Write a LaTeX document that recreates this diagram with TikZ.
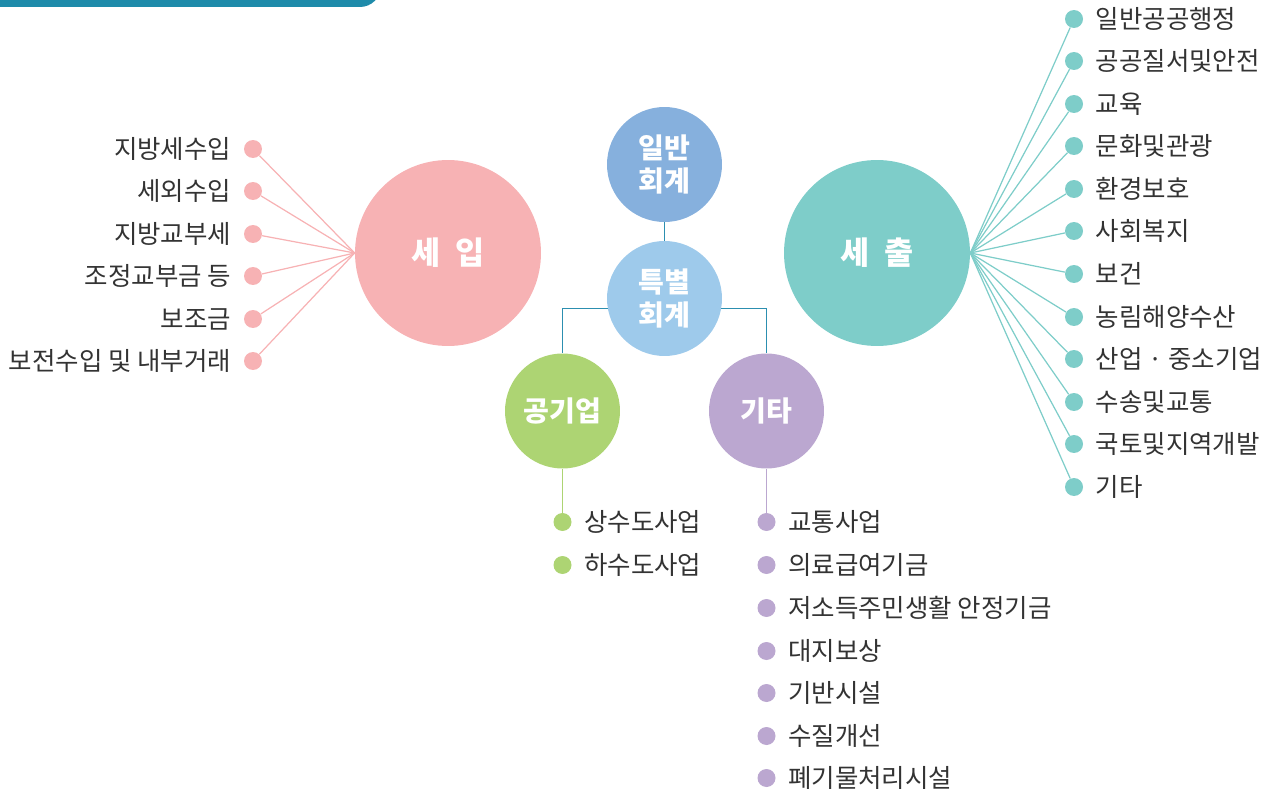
\documentclass[tikz,border=0pt]{standalone}
\usepackage{fontspec}
\setmainfont{Noto Sans CJK KR}
\usepackage{tikz}
\usetikzlibrary{positioning}
\definecolor{barblue}{HTML}{1E8BAA}
\definecolor{linkblue}{HTML}{2C8FB0}
\definecolor{inpink}{HTML}{F7B2B4}
\definecolor{outteal}{HTML}{7ECDC9}
\definecolor{genblue}{HTML}{86B0DD}
\definecolor{spcblue}{HTML}{9ECAEB}
\definecolor{pubgreen}{HTML}{ADD473}
\definecolor{etcpurple}{HTML}{BBA7D0}
\definecolor{textgray}{HTML}{333333}

\begin{document}
\begin{tikzpicture}[
    x=0.02cm, y=-0.02cm,
    big circle/.style={circle, minimum size=3.72cm, inner sep=0pt, text=white,
        font=\fontsize{18}{21}\selectfont\bfseries},
    small circle/.style={circle, minimum size=2.3cm, inner sep=0pt, align=center,
        text=white, font=\fontsize{16}{19}\selectfont\bfseries},
    bullet/.style={circle, minimum size=0.36cm, inner sep=0pt},
    itemtext/.style={text=textgray, font=\fontsize{14.5}{16}\selectfont, inner sep=0pt},
    thin link/.style={line width=0.7pt},
    main link/.style={line width=0.9pt, linkblue}
    ]

    \useasboundingbox (0,0) rectangle (1269,794);
    % top bar
    \fill[barblue, rounded corners=12] (-20,-30) rectangle (381,7);

    % main circles
    \node[big circle, fill=inpink] (income) at (448,253) {세\,\,\,입};
    \node[big circle, fill=outteal] (outlay) at (877,253) {세\,\,\,출};
    \node[small circle, fill=genblue] (general) at (664.5,164.5) {일반\\회계};
    \node[small circle, fill=spcblue] (special) at (664.5,298.5) {특별\\회계};
    \node[small circle, fill=pubgreen] (public) at (562.5,411) {공기업};
    \node[small circle, fill=etcpurple] (other) at (766.5,411) {기타};

    % center links
    \draw[main link] (general) -- (special);
    \draw[main link] (special.190) -| (public.north);
    \draw[main link] (special.350) -| (other.north);

    % income items
    \node[bullet, fill=inpink] (in1) at (253,149) {};
    \node[bullet, fill=inpink] (in2) at (253,191) {};
    \node[bullet, fill=inpink] (in3) at (253,234) {};
    \node[bullet, fill=inpink] (in4) at (253,276) {};
    \node[bullet, fill=inpink] (in5) at (253,319) {};
    \node[bullet, fill=inpink] (in6) at (253,361) {};
    \node[itemtext, left=0.24cm of in1] (in1t) {지방세수입};
    \node[itemtext, left=0.24cm of in2] (in2t) {세외수입};
    \node[itemtext, left=0.24cm of in3] (in3t) {지방교부세};
    \node[itemtext, left=0.24cm of in4] (in4t) {조정교부금 등};
    \node[itemtext, left=0.24cm of in5] (in5t) {보조금};
    \node[itemtext, left=0.24cm of in6] (in6t) {보전수입 및 내부거래};
    \draw[thin link, inpink] (income.west) -- (in1);
    \draw[thin link, inpink] (income.west) -- (in2);
    \draw[thin link, inpink] (income.west) -- (in3);
    \draw[thin link, inpink] (income.west) -- (in4);
    \draw[thin link, inpink] (income.west) -- (in5);
    \draw[thin link, inpink] (income.west) -- (in6);

    % outlay items
    \node[bullet, fill=outteal] (out1) at (1074,19) {};
    \node[bullet, fill=outteal] (out2) at (1074,61) {};
    \node[bullet, fill=outteal] (out3) at (1074,104) {};
    \node[bullet, fill=outteal] (out4) at (1074,146) {};
    \node[bullet, fill=outteal] (out5) at (1074,189) {};
    \node[bullet, fill=outteal] (out6) at (1074,231) {};
    \node[bullet, fill=outteal] (out7) at (1074,274) {};
    \node[bullet, fill=outteal] (out8) at (1074,317) {};
    \node[bullet, fill=outteal] (out9) at (1074,359) {};
    \node[bullet, fill=outteal] (out10) at (1074,402) {};
    \node[bullet, fill=outteal] (out11) at (1074,444) {};
    \node[bullet, fill=outteal] (out12) at (1074,487) {};
    \node[itemtext, right=0.24cm of out1] (out1t) {일반공공행정};
    \node[itemtext, right=0.24cm of out2] (out2t) {공공질서및안전};
    \node[itemtext, right=0.24cm of out3] (out3t) {교육};
    \node[itemtext, right=0.24cm of out4] (out4t) {문화및관광};
    \node[itemtext, right=0.24cm of out5] (out5t) {환경보호};
    \node[itemtext, right=0.24cm of out6] (out6t) {사회복지};
    \node[itemtext, right=0.24cm of out7] (out7t) {보건};
    \node[itemtext, right=0.24cm of out8] (out8t) {농림해양수산};
    \node[itemtext, right=0.24cm of out9] (out9t) {산업 · 중소기업};
    \node[itemtext, right=0.24cm of out10] (out10t) {수송및교통};
    \node[itemtext, right=0.24cm of out11] (out11t) {국토및지역개발};
    \node[itemtext, right=0.24cm of out12] (out12t) {기타};
    \draw[thin link, outteal] (outlay.east) -- (out1);
    \draw[thin link, outteal] (outlay.east) -- (out2);
    \draw[thin link, outteal] (outlay.east) -- (out3);
    \draw[thin link, outteal] (outlay.east) -- (out4);
    \draw[thin link, outteal] (outlay.east) -- (out5);
    \draw[thin link, outteal] (outlay.east) -- (out6);
    \draw[thin link, outteal] (outlay.east) -- (out7);
    \draw[thin link, outteal] (outlay.east) -- (out8);
    \draw[thin link, outteal] (outlay.east) -- (out9);
    \draw[thin link, outteal] (outlay.east) -- (out10);
    \draw[thin link, outteal] (outlay.east) -- (out11);
    \draw[thin link, outteal] (outlay.east) -- (out12);

    % public enterprise items
    \node[bullet, fill=pubgreen] (pub1) at (562.5,522) {};
    \node[bullet, fill=pubgreen] (pub2) at (562.5,565) {};
    \node[itemtext, right=0.24cm of pub1] (pub1t) {상수도사업};
    \node[itemtext, right=0.24cm of pub2] (pub2t) {하수도사업};
    \draw[thin link, pubgreen] (public) -- (pub1);

    % other items
    \node[bullet, fill=etcpurple] (etc1) at (766.5,522) {};
    \node[bullet, fill=etcpurple] (etc2) at (766.5,565) {};
    \node[bullet, fill=etcpurple] (etc3) at (766.5,608) {};
    \node[bullet, fill=etcpurple] (etc4) at (766.5,651) {};
    \node[bullet, fill=etcpurple] (etc5) at (766.5,693) {};
    \node[bullet, fill=etcpurple] (etc6) at (766.5,736) {};
    \node[bullet, fill=etcpurple] (etc7) at (766.5,778) {};
    \node[itemtext, right=0.24cm of etc1] (etc1t) {교통사업};
    \node[itemtext, right=0.24cm of etc2] (etc2t) {의료급여기금};
    \node[itemtext, right=0.24cm of etc3] (etc3t) {저소득주민생활 안정기금};
    \node[itemtext, right=0.24cm of etc4] (etc4t) {대지보상};
    \node[itemtext, right=0.24cm of etc5] (etc5t) {기반시설};
    \node[itemtext, right=0.24cm of etc6] (etc6t) {수질개선};
    \node[itemtext, right=0.24cm of etc7] (etc7t) {폐기물처리시설};
    \draw[thin link, etcpurple] (other) -- (etc1);
\end{tikzpicture}
\end{document}
